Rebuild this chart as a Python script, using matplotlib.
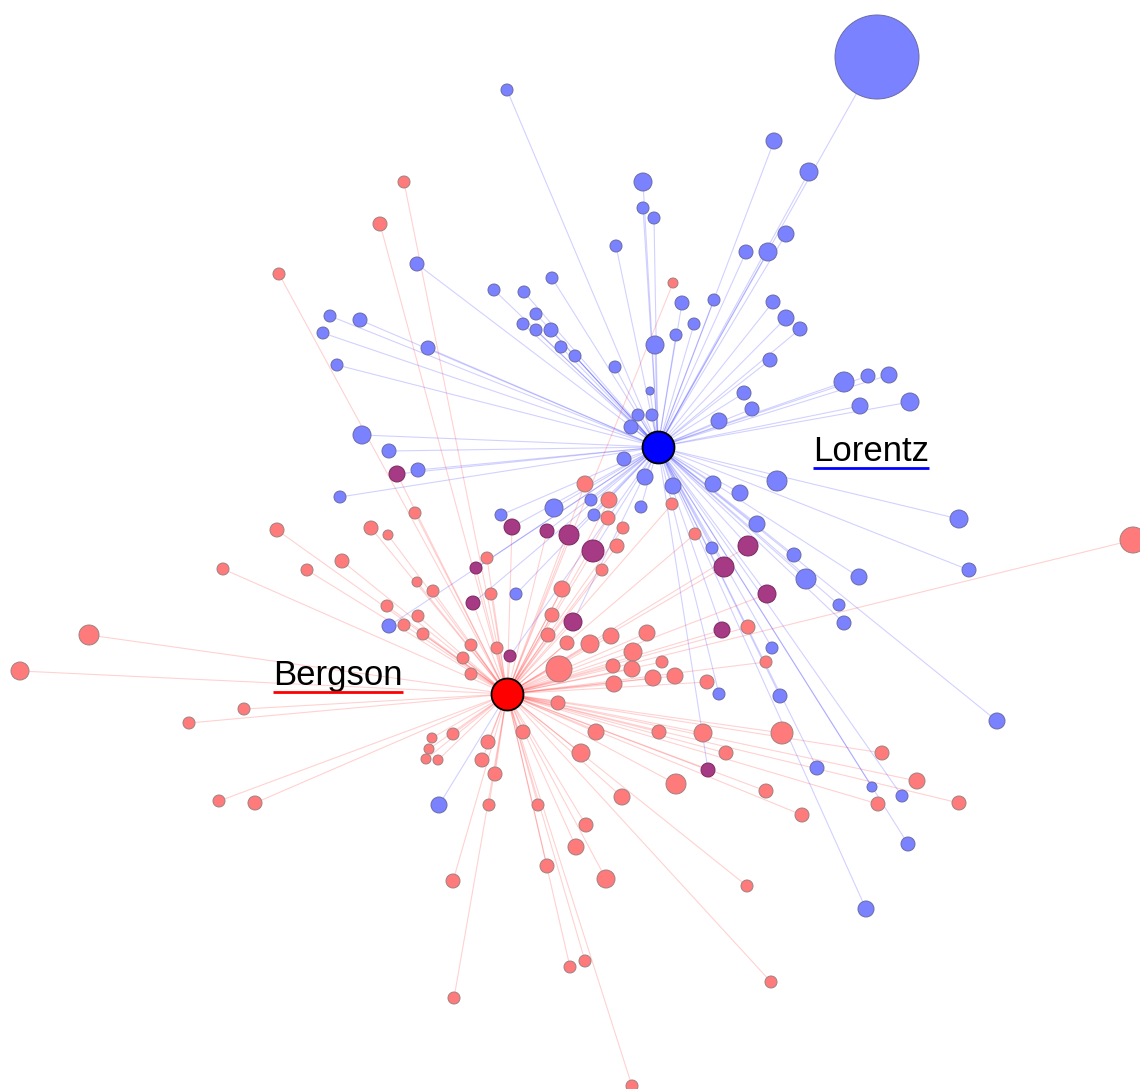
import numpy as np
import matplotlib
matplotlib.use('Agg')
import matplotlib.pyplot as plt
from matplotlib.collections import LineCollection

# hub positions (layout space, y grows downward)
lorentz = (658, 447)
bergson = (507, 694)

# nodes cited only with Lorentz: x, y, size
blue_x = [507, 877, 774, 809, 643, 643, 654, 616, 786, 768, 746, 417, 552, 494, 524, 682, 714,
          773, 786, 800, 536, 523, 536, 551, 694, 676, 655, 561, 575, 330, 360, 323, 337, 428,
          615, 770, 650, 744, 752, 844, 868, 889, 860, 910, 638, 652, 631, 719, 362, 389, 418,
          340, 624, 645, 673, 713, 740, 777, 757, 959, 969, 794, 806, 859, 839, 844, 772, 780,
          997, 712, 591, 554, 501, 594, 641, 516, 389, 719, 817, 872, 902, 908, 866]
blue_y = [90, 57, 141, 172, 182, 208, 218, 246, 234, 252, 252, 264, 278, 290, 292, 303, 300,
          302, 318, 329, 314, 324, 330, 330, 324, 335, 345, 347, 356, 316, 320, 333, 365, 348,
          367, 360, 391, 393, 409, 382, 376, 375, 406, 402, 415, 415, 427, 421, 435, 451, 470,
          497, 459, 477, 486, 484, 493, 481, 524, 519, 570, 555, 579, 577, 605, 623, 648, 696,
          721, 548, 500, 508, 515, 515, 507, 594, 626, 694, 768, 787, 796, 844, 909]
blue_s = [6, 42, 8, 9, 9, 6, 6, 6, 8, 9, 7, 7, 6, 6, 6, 7, 6,
          7, 8, 7, 6, 6, 6, 7, 6, 6, 9, 6, 6, 6, 7, 6, 6, 7,
          6, 7, 4, 7, 7, 10, 7, 8, 8, 9, 6, 6, 7, 8, 9, 7, 7,
          6, 7, 8, 8, 8, 8, 10, 8, 9, 7, 7, 10, 8, 6, 7, 6, 7,
          8, 6, 6, 9, 6, 6, 6, 6, 7, 6, 7, 5, 6, 7, 8]

# blue node linked to Bergson
blue_b_x = [439]
blue_b_y = [805]
blue_b_s = [8]

# nodes cited with both
both_x = [397, 512, 547, 569, 593, 748, 724, 767, 476, 473, 573, 722, 510, 708]
both_y = [474, 527, 531, 535, 551, 546, 567, 594, 568, 603, 622, 630, 656, 770]
both_s = [8, 8, 7, 10, 11, 10, 10, 9, 6, 7, 9, 8, 6, 7]

# nodes cited only with Bergson
red_x = [404, 380, 279, 673, 585, 609, 608, 672, 415, 388, 371, 277, 342, 223, 307, 623, 695,
         617, 602, 487, 417, 433, 562, 491, 387, 418, 404, 423, 552, 548, 567, 590, 611, 647,
         748, 471, 497, 463, 471, 559, 633, 662, 613, 632, 653, 675, 614, 707, 766, 558, 89,
         20, 244, 189, 219, 255, 432, 453, 429, 426, 438, 488, 482, 495, 489, 523, 596, 659,
         703, 782, 581, 726, 676, 622, 538, 586, 576, 547, 606, 747, 453, 570, 585, 454, 632,
         882, 917, 766, 878, 959, 802, 771, 1133]
red_y = [182, 224, 274, 283, 484, 500, 518, 504, 513, 535, 528, 530, 561, 569, 570, 528, 534,
         546, 570, 558, 582, 591, 589, 594, 606, 616, 625, 634, 615, 635, 643, 644, 636, 633,
         627, 645, 648, 658, 674, 669, 652, 662, 666, 669, 678, 676, 684, 682, 662, 703, 635,
         671, 709, 723, 801, 803, 738, 734, 749, 759, 760, 742, 760, 774, 805, 732, 732, 732,
         733, 733, 753, 753, 784, 797, 805, 825, 847, 866, 879, 886, 881, 967, 961, 998, 1086,
         753, 781, 791, 804, 803, 815, 982, 540]
red_s = [6, 7, 6, 5, 8, 8, 7, 6, 6, 5, 7, 7, 7, 6, 6, 6, 6,
         7, 6, 6, 5, 6, 8, 6, 6, 6, 6, 6, 7, 7, 7, 9, 8, 8,
         7, 6, 6, 6, 6, 13, 9, 6, 7, 8, 8, 8, 8, 7, 6, 7, 10,
         9, 6, 6, 6, 7, 5, 6, 5, 5, 5, 7, 7, 7, 6, 7, 8, 7,
         9, 11, 9, 7, 10, 8, 6, 7, 8, 7, 9, 6, 7, 6, 6, 6, 6,
         7, 8, 7, 7, 7, 7, 6, 13]

W, H, DPI = 1140, 1089, 100
fig = plt.figure(figsize=(W / DPI, H / DPI), dpi=DPI)
ax = fig.add_axes([0, 0, 1, 1])
ax.set_xlim(0, W)
ax.set_ylim(H, 0)
ax.axis('off')


def to_area(r):
    # radius in layout px -> scatter area in pt^2
    return (2 * np.asarray(r) * 72.0 / DPI) ** 2


def edges(xs, ys, hub):
    return [[(x, y), hub] for x, y in zip(xs, ys)]


blue_edges = edges(blue_x, blue_y, lorentz) + edges(both_x, both_y, lorentz) + edges(blue_b_x, blue_b_y, bergson)
red_edges = edges(red_x, red_y, bergson) + edges(both_x, both_y, bergson)

ax.add_collection(LineCollection(blue_edges, colors=(0, 0, 1, 0.18), linewidths=0.8, zorder=1))
ax.add_collection(LineCollection(red_edges, colors=(1, 0, 0, 0.18), linewidths=0.8, zorder=1))

ax.scatter(blue_x + blue_b_x, blue_y + blue_b_y, s=to_area(blue_s + blue_b_s), c='#7a82ff',
           edgecolors='#6a6aa8', linewidths=0.7, zorder=3)
ax.scatter(red_x, red_y, s=to_area(red_s), c='#ff7a7a',
           edgecolors='#a08080', linewidths=0.7, zorder=3)
ax.scatter(both_x, both_y, s=to_area(both_s), c='#a63a85',
           edgecolors='#7a2a60', linewidths=0.7, zorder=4)

ax.scatter([lorentz[0]], [lorentz[1]], s=to_area(16), c='#0000ff', edgecolors='black', linewidths=1.3, zorder=5)
ax.scatter([bergson[0]], [bergson[1]], s=to_area(16), c='#ff0000', edgecolors='black', linewidths=1.3, zorder=5)

labels = [('Lorentz', 813, 461, '#0000ff'), ('Bergson', 273, 685, '#ff0000')]
texts = []
for name, lx, ly, col in labels:
    t = ax.text(lx, ly, name, fontsize=25, family='Liberation Sans', color='black',
                ha='left', va='baseline', zorder=6)
    texts.append((t, col))

fig.canvas.draw()
inv = ax.transData.inverted()
for t, col in texts:
    bb = t.get_window_extent()
    (x0, y0), (x1, y1) = inv.transform([(bb.x0, bb.y0), (bb.x1, bb.y1)])
    ax.plot([x0, x1], [y0, y0], color=col, linewidth=2, solid_capstyle='butt', zorder=6)

fig.savefig('out.png', dpi=DPI)
